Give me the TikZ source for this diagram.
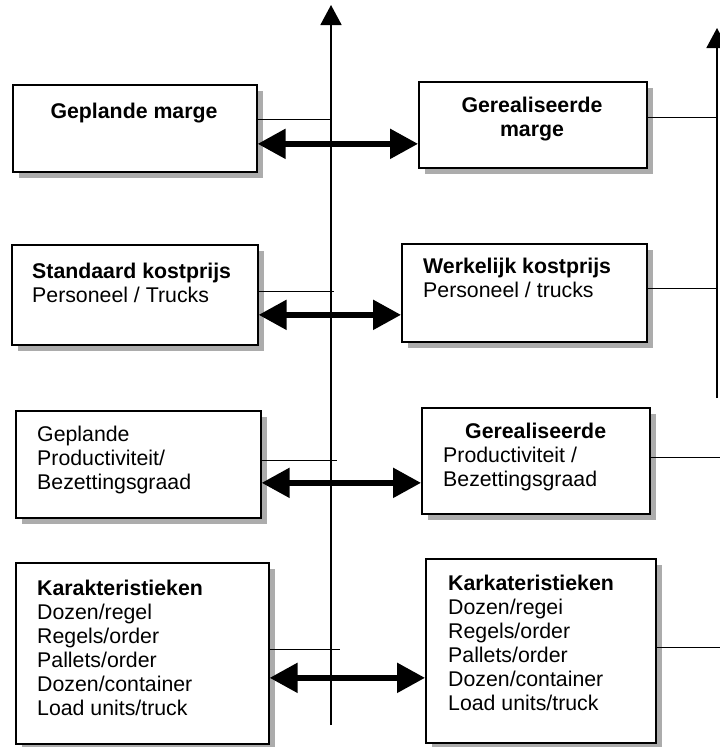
\documentclass[tikz,border=0pt]{standalone}
\usepackage{fontspec}
\setmainfont{Liberation Sans}
\usetikzlibrary{arrows.meta,shadows}

\begin{document}
\begin{tikzpicture}[x=1pt,y=-1pt,
  box/.style={draw=black, line width=1.7pt, fill=white, inner sep=0pt, anchor=north west,
    drop shadow={shadow xshift=6pt, shadow yshift=-6pt, fill=gray!65, opacity=1}},
  txt/.style={inner sep=0pt, font=\fontsize{21.3}{24}\selectfont, align=left, anchor=north west},
  link/.style={line width=1.1pt},
  axis/.style={line width=1.8pt, -{Triangle[length=20pt,width=21pt]}},
  flow/.style={line width=5.5pt, {Triangle[length=28pt,width=29pt]}-{Triangle[length=28pt,width=29pt]}}
]
\useasboundingbox (0,0) rectangle (720,747);

% axes
\coordinate (axLbot) at (331,725);
\coordinate (axLtop) at (331,5);
\coordinate (axRbot) at (717,398);
\coordinate (axRtop) at (717,28);
\coordinate (edgeR) at (720,0);
\draw[axis] (axLbot) -- (axLtop);
\draw[axis] (axRbot) -- (axRtop);

% boxes
\node[box, minimum width=244pt, minimum height=87pt]  (b1) at (12,84)  {};
\node[box, minimum width=228pt, minimum height=86pt]  (b2) at (418,81) {};
\node[box, minimum width=246pt, minimum height=100pt] (b3) at (11,244) {};
\node[box, minimum width=245pt, minimum height=98pt]  (b4) at (401,243) {};
\node[box, minimum width=245pt, minimum height=107pt] (b5) at (15,410) {};
\node[box, minimum width=228pt, minimum height=106pt] (b6) at (421,407) {};
\node[box, minimum width=253pt, minimum height=181pt] (b7) at (15,562) {};
\node[box, minimum width=230pt, minimum height=184pt] (b8) at (425,558) {};

% box texts
\node[txt, anchor=north, align=center] (t1) at (134,102.5) {\textbf{Geplande marge}};
\node[txt, anchor=north, align=center] (t2) at (532,96.5) {\textbf{Gerealiseerde}\\\textbf{marge}};
\node[txt] (t3) at (32,262.5) {\textbf{Standaard kostprijs}\\Personeel / Trucks};
\node[txt] (t4) at (423,257.5) {\textbf{Werkelijk kostprijs}\\Personeel / trucks};
\node[txt] (t5) at (37,425.5) {Geplande\\Productiviteit/\\Bezettingsgraad};
\node[txt] (t6) at (443,422.5) {\hspace*{22pt}\textbf{Gerealiseerde}\\Productiviteit /\\Bezettingsgraad};
\node[txt] (t7) at (37,579.5) {\textbf{Karakteristieken}\\Dozen/regel\\Regels/order\\Pallets/order\\Dozen/container\\Load units/truck};
\node[txt] (t8) at (448,574.5) {\textbf{Karkateristieken}\\Dozen/regei\\Regels/order\\Pallets/order\\Dozen/container\\Load units/truck};

% thin links to the axes
\draw[link] ([yshift=8.5pt]b1.east) coordinate (l1) -- (l1 -| axLtop);
\draw[link] ([yshift=3pt]b3.east) coordinate (l3) -- ([xshift=3pt]l3 -| axLtop);
\draw[link] ([yshift=3.5pt]b5.east) coordinate (l5) -- ([xshift=6pt]l5 -| axLtop);
\draw[link] ([yshift=3.5pt]b7.east) coordinate (l7) -- ([xshift=9pt]l7 -| axLtop);
\draw[link] ([yshift=7pt]b2.east) coordinate (l2) -- (l2 -| axRtop);
\draw[link] ([yshift=4pt]b4.east) coordinate (l4) -- (l4 -| axRtop);
\draw[link] ([yshift=3pt]b6.east) coordinate (l6) -- (l6 -| edgeR);
\draw[link] ([yshift=3pt]b8.east) coordinate (l8) -- (l8 -| edgeR);

% double arrows between plan and realisation
\draw[flow] ([yshift=-15.5pt]b1.east) coordinate (f1) -- (f1 -| b2.west);
\draw[flow] ([yshift=-20pt]b3.east) coordinate (f3) -- (f3 -| b4.west);
\draw[flow] ([yshift=-18.5pt]b5.east) coordinate (f5) -- (f5 -| b6.west);
\draw[flow] ([yshift=-24.5pt]b7.east) coordinate (f7) -- (f7 -| b8.west);
\end{tikzpicture}
\end{document}
